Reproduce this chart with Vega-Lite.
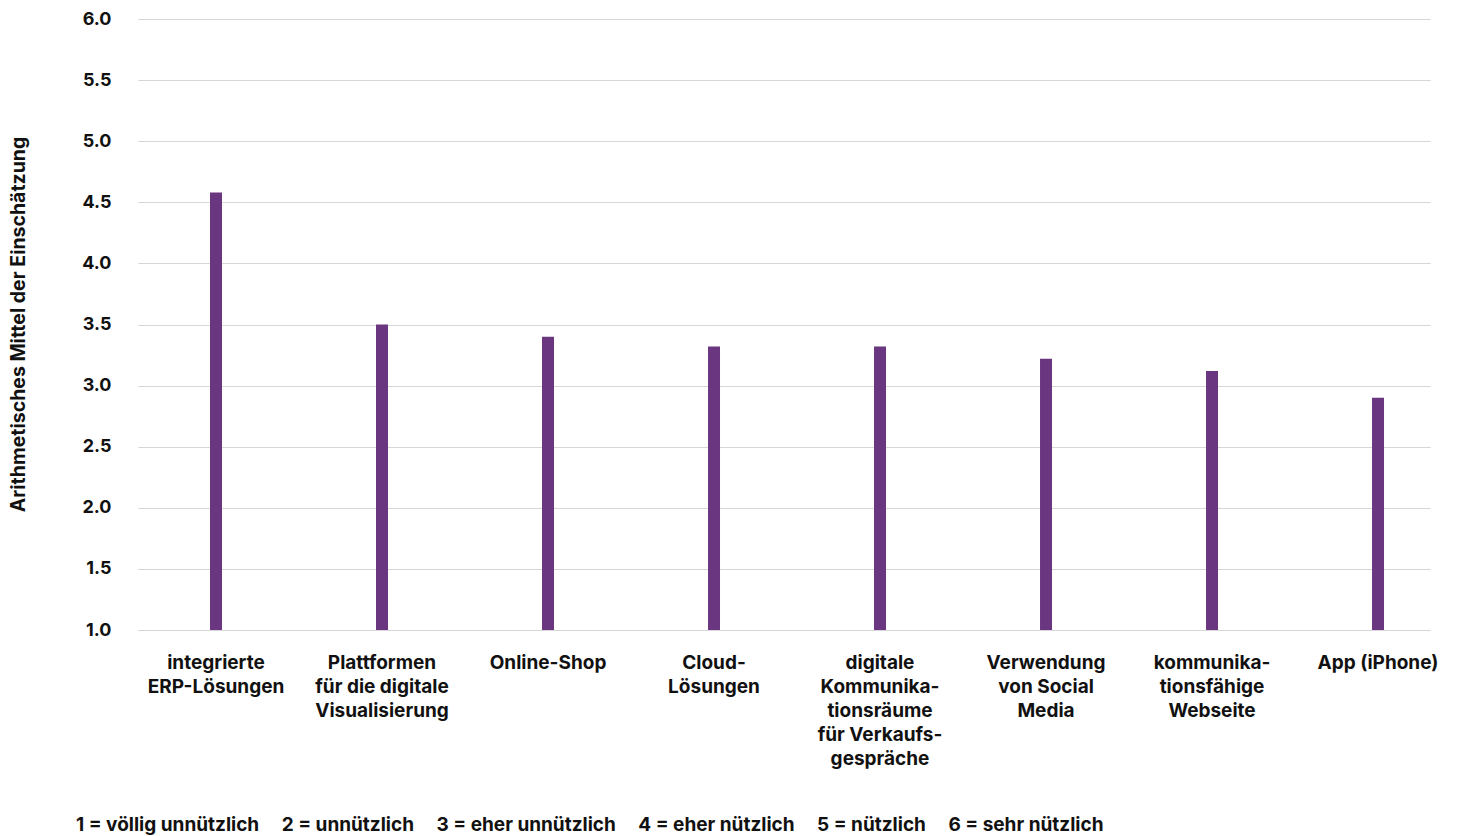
{
  "$schema": "https://vega.github.io/schema/vega-lite/v6.json",
  "width": 1292,
  "height": 611,
  "autosize": "none",
  "padding": {"left": 138, "top": 19, "right": 29, "bottom": 206},
  "background": "#ffffff",
  "config": {
    "font": "Inter",
    "view": {"stroke": null},
    "title": {"font": "Inter", "fontWeight": "bold", "fontSize": 19, "color": "#111111"}
  },
  "title": {
    "text": "1 = völlig unnützlich\u00a0\u00a0\u00a0\u00a0 2 = unnützlich\u00a0\u00a0\u00a0\u00a0 3 = eher unnützlich\u00a0\u00a0\u00a0\u00a0 4 = eher nützlich\u00a0\u00a0\u00a0\u00a0 5 = nützlich\u00a0\u00a0\u00a0\u00a0 6 = sehr nützlich",
    "orient": "bottom",
    "anchor": "start",
    "frame": "group",
    "dx": -62,
    "offset": 48
  },
  "data": {
    "values": [
      {"kategorie": "integrierte|ERP-Lösungen", "mittel": 4.58},
      {"kategorie": "Plattformen|für die digitale|Visualisierung", "mittel": 3.5},
      {"kategorie": "Online-Shop", "mittel": 3.4},
      {"kategorie": "Cloud-|Lösungen", "mittel": 3.32},
      {"kategorie": "digitale|Kommunika-|tionsräume|für Verkaufs-|gespräche", "mittel": 3.32},
      {"kategorie": "Verwendung|von Social|Media", "mittel": 3.22},
      {"kategorie": "kommunika-|tionsfähige|Webseite", "mittel": 3.12},
      {"kategorie": "App (iPhone)", "mittel": 2.9}
    ]
  },
  "mark": {"type": "bar", "color": "#6a3680", "size": 12},
  "encoding": {
    "x": {
      "field": "kategorie",
      "type": "nominal",
      "sort": null,
      "scale": {"paddingInner": 0.5, "paddingOuter": 0.1415, "align": 0.777},
      "axis": {
        "title": null,
        "domain": false,
        "ticks": false,
        "grid": false,
        "labelAngle": 0,
        "labelAlign": "center",
        "labelBaseline": "top",
        "labelPadding": 23,
        "labelLineHeight": 24,
        "labelFont": "Inter",
        "labelFontWeight": "bold",
        "labelFontSize": 19,
        "labelColor": "#111111",
        "labelExpr": "split(datum.label, '|')"
      }
    },
    "y": {
      "field": "mittel",
      "type": "quantitative",
      "scale": {"domain": [1, 6], "zero": false, "nice": false},
      "axis": {
        "title": "Arithmetisches Mittel der Einschätzung",
        "values": [1, 1.5, 2, 2.5, 3, 3.5, 4, 4.5, 5, 5.5, 6],
        "format": ".1f",
        "domain": false,
        "ticks": false,
        "grid": true,
        "gridColor": "#d6d6d6",
        "gridWidth": 1.2,
        "labelPadding": 27,
        "labelFont": "Inter",
        "labelFontWeight": "bold",
        "labelFontSize": 18,
        "labelColor": "#111111",
        "titleFont": "Inter",
        "titleFontWeight": "bold",
        "titleFontSize": 19.5,
        "titleColor": "#111111",
        "titleAngle": -90,
        "titleX": -120,
        "titleY": 305,
        "titleAlign": "center",
        "titleBaseline": "middle"
      }
    },
    "y2": {"datum": 1}
  }
}
